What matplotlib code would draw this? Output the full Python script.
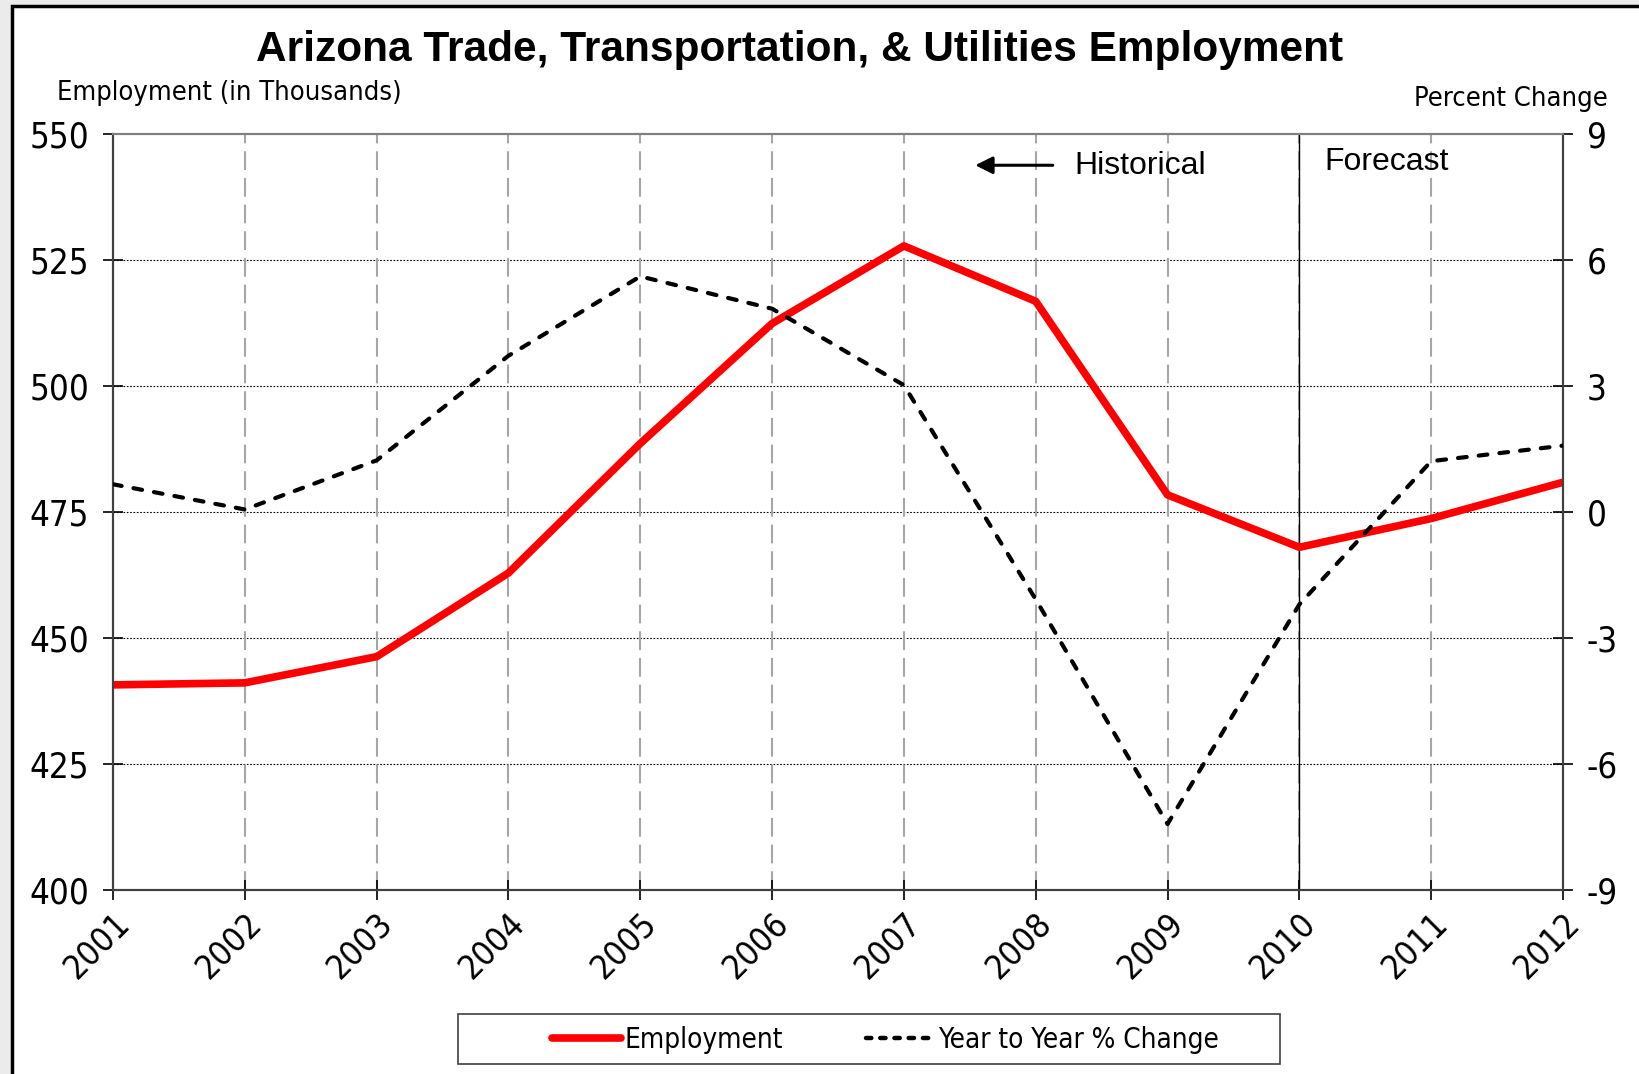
import matplotlib
matplotlib.use("Agg")
import matplotlib.pyplot as plt
from matplotlib.patches import Rectangle
from matplotlib.lines import Line2D

plt.rcParams["axes.unicode_minus"] = False

# data
years = [2001, 2002, 2003, 2004, 2005, 2006, 2007, 2008, 2009, 2010, 2011, 2012]
employment = [440.7, 441.1, 446.3, 462.9, 488.6, 512.4, 527.8, 516.8, 478.4, 468.0, 473.7, 480.9]
pct_change = [0.66, 0.06, 1.23, 3.72, 5.61, 4.84, 3.02, -2.08, -7.43, -2.20, 1.21, 1.58]
left_ticks = [400, 425, 450, 475, 500, 525, 550]
right_ticks = [-9, -6, -3, 0, 3, 6, 9]
forecast_start = 2010

narrow = dict(family="DejaVu Sans", stretch="condensed")
wide = ["Liberation Sans", "DejaVu Sans"]

fig = plt.figure(figsize=(16.39, 10.74), dpi=100)
fig.patch.set_facecolor("#ebebeb")
# white panel with black border
fig.patches.append(Rectangle((12/1639, -0.02), 1.1, 1 - 6/1074 + 0.02, transform=fig.transFigure,
                             facecolor="white", edgecolor="black", linewidth=2.5, zorder=-5))
# legend box
fig.patches.append(Rectangle((458/1639, 1 - 1064/1074), 822/1639, 50/1074, transform=fig.transFigure,
                             facecolor="white", edgecolor="#404040", linewidth=1.2, zorder=-4))

ax = fig.add_axes([113/1639, 1 - 890/1074, 1450/1639, 756/1074])
ax2 = ax.twinx()
ax.patch.set_alpha(0)

ax.plot(years, employment, color="red", linewidth=5.5, solid_capstyle="butt", zorder=3)
ax2.plot(years, pct_change, color="black", linewidth=3.0, dashes=(2.1, 2.9),
         dash_capstyle="round", zorder=3)

ax.set_xlim(2001, 2012)
ax.set_ylim(400, 550)
ax2.set_ylim(-9, 9)
ax.set_yticks(left_ticks)
ax2.set_yticks(right_ticks)
ax.set_xticks(years)

# grid
for y in left_ticks[1:-1]:
    ax.axhline(y, color="black", linewidth=0.8, linestyle=(0, (1.5, 1.5)), zorder=1)
for x in years[1:-1]:
    ax.axvline(x, color="#a6a6a6", linewidth=1.5, linestyle=(0, (9, 3.8)), zorder=1)
ax.axvline(forecast_start, color="black", linewidth=1.0, zorder=2)

for a in (ax, ax2):
    a.spines["top"].set_color("#808080")
    a.spines["top"].set_linewidth(1.5)
    for s in ("left", "right", "bottom"):
        a.spines[s].set_color("#404040")
        a.spines[s].set_linewidth(1.5)

ax.tick_params(axis="y", direction="inout", length=14, width=1.2, pad=10, labelsize=25)
ax2.tick_params(axis="y", direction="inout", length=14, width=1.2, pad=10, labelsize=25)
ax.tick_params(axis="x", direction="inout", length=14, width=1.2, pad=5, labelsize=24.5)
for lab in ax.get_yticklabels() + ax2.get_yticklabels():
    lab.set_family(narrow["family"])
    lab.set_stretch(narrow["stretch"])
ax.set_xticklabels([str(y) for y in years], rotation=45, ha="right", rotation_mode="anchor",
                   **narrow)

fig.text(0.488, 0.953, "Arizona Trade, Transportation, & Utilities Employment", ha="center",
         va="center", fontsize=30.5, fontweight="bold", family=wide)
fig.text(57/1639, 1 - 93/1074, "Employment (in Thousands)", ha="left", va="center",
         fontsize=19.5, **narrow)
fig.text(1608/1639, 1 - 99/1074, "Percent Change", ha="right", va="center",
         fontsize=19.5, **narrow)

ax.annotate("", xy=(2007.52, 543.8), xytext=(2008.15, 543.8),
            arrowprops=dict(arrowstyle="-|>", color="black", lw=2.2, mutation_scale=26))
ax.text(2008.29, 543.6, "Historical", ha="left", va="center", fontsize=23, family=wide)
ax.text(2010.19, 544.5, "Forecast", ha="left", va="center", fontsize=23, family=wide)

handles = [Line2D([], [], color="red", linewidth=5.5, solid_capstyle="round"),
           Line2D([], [], color="black", linewidth=3.2, dashes=(1.2, 2.0), dash_capstyle="round")]
leg = fig.legend(handles, ["Employment", "Year to Year % Change"], loc="center",
                 bbox_to_anchor=((458 + 411)/1639 + 0.01, 1 - 1040/1074), ncol=2,
                 frameon=False, handlelength=2.5, handletextpad=0.1, columnspacing=3.0,
                 prop={"family": "DejaVu Sans", "stretch": "condensed", "size": 20})

fig.savefig("out.png", dpi=100, facecolor=fig.get_facecolor())
